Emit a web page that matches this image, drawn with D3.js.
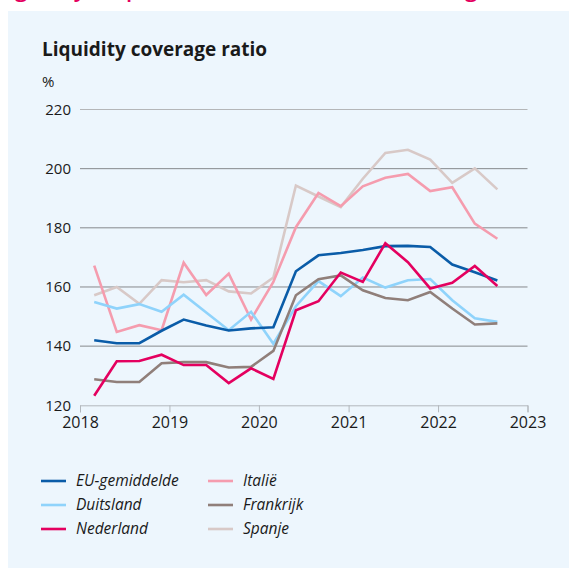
<!DOCTYPE html>
<html>
<head>
<meta charset="utf-8">
<script src="https://cdn.jsdelivr.net/npm/d3@7"></script>
<style>
  body { margin: 0; background: #ffffff; }
  svg { display: block; font-family: "Open Sans", sans-serif; }
</style>
</head>
<body>
<div id="chart"></div>
<script>
// quarterly observations (end of Feb, May, Aug, Nov)
var dates = [
  "2018-02-28", "2018-05-31", "2018-08-31", "2018-11-30",
  "2019-02-28", "2019-05-31", "2019-08-31", "2019-11-30",
  "2020-02-29", "2020-05-31", "2020-08-31", "2020-11-30",
  "2021-02-28", "2021-05-31", "2021-08-31", "2021-11-30",
  "2022-02-28", "2022-05-31", "2022-08-31"
];

var euGemiddelde = [142.0, 141.0, 141.0, 145.2, 149.0, 147.0, 145.3, 146.0, 146.4, 165.3, 170.7, 171.5, 172.5, 173.8, 173.9, 173.5, 167.6, 165.0, 162.2];
var duitsland    = [154.9, 152.7, 154.2, 151.6, 157.4, 151.4, 145.4, 151.6, 140.8, 153.5, 162.0, 156.9, 163.2, 159.8, 162.3, 162.7, 155.5, 149.4, 148.2];
var nederland    = [123.2, 134.9, 135.0, 137.1, 133.6, 133.6, 127.5, 132.5, 128.9, 152.1, 155.2, 164.9, 161.7, 174.8, 168.4, 159.5, 161.4, 167.1, 160.3];
var italie       = [167.2, 144.8, 147.1, 145.4, 168.2, 157.3, 164.5, 149.0, 161.7, 180.2, 191.8, 187.3, 194.0, 196.9, 198.2, 192.4, 193.7, 181.4, 176.3];
var frankrijk    = [128.8, 127.9, 127.9, 134.2, 134.6, 134.6, 132.8, 133.0, 138.4, 157.2, 162.6, 163.9, 158.9, 156.3, 155.5, 158.3, 152.7, 147.3, 147.7];
var spanje       = [157.2, 160.0, 154.3, 162.3, 161.6, 162.3, 158.5, 157.8, 163.2, 194.3, 190.6, 187.0, 196.6, 205.3, 206.4, 203.1, 195.2, 200.1, 193.0];

var seriesNames  = ["EU-gemiddelde", "Duitsland", "Nederland", "Italië", "Frankrijk", "Spanje"];
var seriesValues = [euGemiddelde, duitsland, nederland, italie, frankrijk, spanje];
var seriesColors = ["#0a5ca8", "#8fd3fb", "#e4005f", "#f59cae", "#907f7a", "#d8c9c7"];

var yTicks = [120, 140, 160, 180, 200, 220];
var xTicks = [2018, 2019, 2020, 2021, 2022, 2023];

var width = 569, height = 570;
var margin = { top: 109.5, right: 41.5, bottom: 164.7, left: 80 };
var plotW = width - margin.left - margin.right;
var plotH = height - margin.top - margin.bottom;

var parseDate = d3.timeParse("%Y-%m-%d");
var dateValues = dates.map(parseDate);

var svg = d3.select("#chart").append("svg")
  .attr("width", width)
  .attr("height", height);

// panel background
svg.append("rect")
  .attr("x", 8).attr("y", 11)
  .attr("width", width - 8).attr("height", 557)
  .attr("fill", "#edf6fd");

// cut-off heading fragments from the page above (only descenders show)
var headFrag = [{ t: "g", x: 15 }, { t: "y", x: 74 }, { t: "p", x: 126 }, { t: "g", x: 465 }];
svg.selectAll(".headfrag")
  .data(headFrag)
  .enter().append("text")
  .attr("class", "headfrag")
  .attr("x", function (d) { return d.x; })
  .attr("y", -3)
  .attr("fill", "#e4005f")
  .style("font-size", "22px")
  .style("font-weight", "600")
  .text(function (d) { return d.t; });

// title
svg.append("text")
  .attr("x", 42).attr("y", 56)
  .style("font-size", "19px")
  .style("font-weight", "700")
  .attr("fill", "#1a1a1a")
  .text("Liquidity coverage ratio");

svg.append("text")
  .attr("x", 42).attr("y", 87)
  .style("font-size", "15px")
  .attr("fill", "#1a1a1a")
  .text("%");

var xScale = d3.scaleTime()
  .domain([new Date(2018, 0, 1), new Date(2023, 0, 1)])
  .range([0, plotW]);

var yScale = d3.scaleLinear()
  .domain([120, 220])
  .range([plotH, 0]);

var focus = svg.append("g")
  .attr("transform", "translate(" + margin.left + "," + margin.top + ")");

// gridlines
focus.append("g")
  .selectAll("line")
  .data(yTicks.slice(1))
  .enter().append("line")
  .attr("x1", 0).attr("x2", plotW)
  .attr("y1", function (d) { return yScale(d); })
  .attr("y2", function (d) { return yScale(d); })
  .attr("stroke", function (d) { return d === 220 ? "#b4b6b8" : "#86898c"; })
  .attr("stroke-width", 1);

// y labels
focus.append("g")
  .selectAll("text")
  .data(yTicks)
  .enter().append("text")
  .attr("x", -9)
  .attr("y", function (d) { return yScale(d); })
  .attr("dy", "0.35em")
  .attr("text-anchor", "end")
  .style("font-size", "15px")
  .attr("fill", "#1a1a1a")
  .text(function (d) { return d; });

// x axis
var xAxis = d3.axisBottom(xScale)
  .tickValues(xTicks.map(function (y) { return new Date(y, 0, 1); }))
  .tickFormat(d3.timeFormat("%Y"))
  .tickSize(7)
  .tickPadding(4);

var gX = focus.append("g")
  .attr("class", "axis axis--x")
  .attr("transform", "translate(0," + plotH + ")")
  .call(xAxis);

gX.select(".domain").attr("stroke", "#b3b8bd");
gX.selectAll(".tick line").attr("stroke", "#b3b8bd");
gX.selectAll(".tick text")
  .style("font-size", "16px")
  .style("font-family", "\"Open Sans\", sans-serif")
  .attr("fill", "#1a1a1a");

// lines
var valueline = d3.line()
  .x(function (d, i) { return xScale(dateValues[i]); })
  .y(function (d) { return yScale(d); });

var drawOrder = [5, 3, 1, 4, 0, 2];
focus.append("g")
  .selectAll("path")
  .data(drawOrder)
  .enter().append("path")
  .attr("d", function (k) { return valueline(seriesValues[k]); })
  .attr("fill", "none")
  .attr("stroke", function (k) { return seriesColors[k]; })
  .attr("stroke-width", 2.6)
  .attr("stroke-linejoin", "miter");

// legend
var legend = svg.append("g")
  .selectAll("g")
  .data(seriesNames)
  .enter().append("g")
  .attr("transform", function (d, i) {
    var col = Math.floor(i / 3), row = i % 3;
    return "translate(" + (41 + col * 167) + "," + (481 + row * 24) + ")";
  });

legend.append("line")
  .attr("x1", 0).attr("x2", 25)
  .attr("stroke", function (d, i) { return seriesColors[i]; })
  .attr("stroke-width", 2.6);

legend.append("text")
  .attr("x", 35)
  .attr("dy", "0.35em")
  .style("font-size", "15.5px")
  .style("font-style", "italic")
  .attr("fill", "#1a1a1a")
  .text(function (d) { return d; });
</script>
</body>
</html>
